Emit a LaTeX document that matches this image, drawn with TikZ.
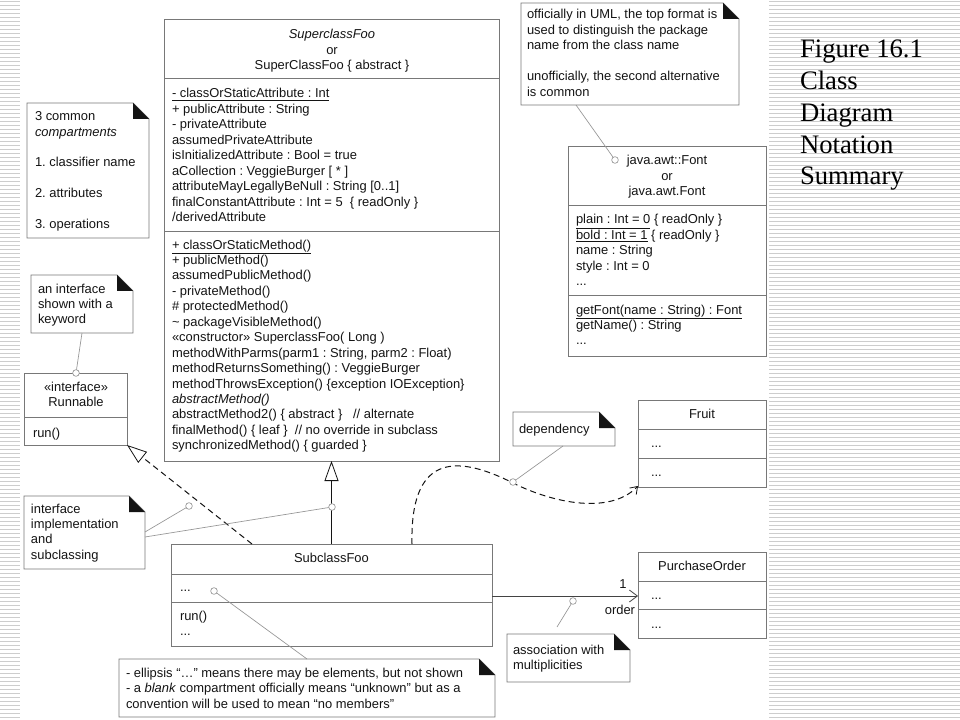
\documentclass[tikz,border=0pt]{standalone}
\usepackage{fontspec}
\setmainfont{Liberation Sans}
\newfontfamily\titlefont{Liberation Serif}
\usetikzlibrary{arrows.meta,fit}
\definecolor{boxc}{RGB}{120,120,120}
\definecolor{linkc}{RGB}{150,150,150}
\definecolor{stripec}{RGB}{205,205,205}
\definecolor{inkc}{RGB}{20,20,20}
\frenchspacing
\newcommand\fl{\rule{0pt}{7.5pt}}
\newcommand\umlnote[5]{%
  \node[fit={(#2,#3)(#4,#5)}] (#1) {};
  \draw[notec] (#1.north west) -- ([xshift=-12pt]#1.north east) -- ([yshift=-12pt]#1.north east) -- (#1.south east) -- (#1.south west) -- cycle;
  \fill[inkc] ([xshift=-12pt]#1.north east) -- ([xshift=-12pt,yshift=-12pt]#1.north east) -- ([yshift=-12pt]#1.north east) -- cycle;
}
\begin{document}
\begin{tikzpicture}[x=0.75pt,y=-0.75pt,
  every node/.style={inner sep=0pt, outer sep=0pt},
  txt/.style={font=\fontsize{9.7pt}{11.59pt}\selectfont\frenchspacing, text=inkc, align=left},
  frame/.style={draw=boxc, line width=0.75pt},
  notec/.style={draw=boxc, line width=0.65pt, fill=white},
  notelink/.style={draw=linkc, line width=0.5pt},
  pincirc/.style={circle, draw=linkc, fill=white, line width=0.5pt, minimum size=5pt},
  stripe/.style={draw=stripec, line width=0.6pt},
  titletxt/.style={font=\titlefont\fontsize{20pt}{24pt}\selectfont, text=black, anchor=base west},
  genarrow/.style={draw=inkc, line width=0.6pt, -{Triangle[fill=white, length=15pt, width=10.5pt, line width=0.6pt]}},
  realarrow/.style={draw=inkc, line width=0.75pt, dash pattern=on 4.5pt off 3pt, -{Triangle[fill=white, length=15pt, width=10.5pt, line width=0.6pt]}},
  deparrow/.style={draw=inkc, line width=0.75pt, dash pattern=on 4.5pt off 3pt, -{Straight Barb[length=5pt, width=7pt, line width=0.6pt]}},
  assocarrow/.style={draw=inkc!80, line width=0.6pt, -{Straight Barb[length=6pt, width=9pt, line width=0.6pt]}}
]
\useasboundingbox (0,0) rectangle (960,720);
\fill[white] (0,0) rectangle (960,720);
% striped slide background
\foreach \y in {1,5,...,717} {\draw[stripe] (0,\y) -- (20,\y); \draw[stripe] (769,\y) -- (960,\y);}

% title
\node[titletxt] (t1) at (800,58) {Figure 16.1};
\node[titletxt] (t2) at (800,90) {Class};
\node[titletxt] (t3) at (800,122) {Diagram};
\node[titletxt] (t4) at (800,153.5) {Notation};
\node[titletxt] (t5) at (800,185) {Summary};

% SuperclassFoo
\node[frame, fit={(164,20)(499,461)}] (super) {};
\draw[frame] (super.west |- 0,79) -- (super.east |- 0,79);
\draw[frame] (super.west |- 0,232) -- (super.east |- 0,232);
\node[txt, align=center, anchor=north] (superName) at (332,29) {\fl\textit{SuperclassFoo}\\or\\SuperClassFoo \{ abstract \}};
\node[txt, anchor=north west] (superAttr) at (172,88) {\fl\underline{- classOrStaticAttribute : Int}\\
+ publicAttribute : String\\
- privateAttribute\\
assumedPrivateAttribute\\
isInitializedAttribute : Bool = true\\
aCollection : VeggieBurger [ * ]\\
attributeMayLegallyBeNull : String [0..1]\\
finalConstantAttribute : Int = 5 \ \{ readOnly \}\\
/derivedAttribute};
\node[txt, anchor=north west] (superOps) at (172,239) {\fl\underline{+ classOrStaticMethod()}\\
+ publicMethod()\\
assumedPublicMethod()\\
- privateMethod()\\
\# protectedMethod()\\
\textasciitilde{} packageVisibleMethod()\\
«constructor» SuperclassFoo( Long )\\
methodWithParms(parm1 : String, parm2 : Float)\\
methodReturnsSomething() : VeggieBurger\\
methodThrowsException() \{exception IOException\}\\
\textit{abstractMethod()}\\
abstractMethod2() \{ abstract \} \ \ // alternate\\
finalMethod() \{ leaf \} \ // no override in subclass\\
synchronizedMethod() \{ guarded \}};

% java.awt.Font
\node[frame, fit={(568,147)(766,356)}] (font) {};
\draw[frame] (font.west |- 0,206) -- (font.east |- 0,206);
\draw[frame] (font.west |- 0,296) -- (font.east |- 0,296);
\node[txt, align=center, anchor=north] (fontName) at (667,155) {\fl java.awt::Font\\or\\java.awt.Font};
\node[txt, anchor=north west] (fontAttr) at (576,214) {\fl\underline{plain : Int = 0} \{ readOnly \}\\
\underline{bold : Int = 1} \{ readOnly \}\\
name : String\\
style : Int = 0\\
...};
\node[txt, anchor=north west] (fontOps) at (576,304) {\fl\underline{getFont(name : String) : Font}\\
getName() : String\\
...};

% Runnable
\node[frame, fit={(24,373)(127,445)}] (run) {};
\draw[frame] (run.west |- 0,417) -- (run.east |- 0,417);
\node[txt, align=center, anchor=north] (runName) at (76,381) {\fl«interface»\\Runnable};
\node[txt, anchor=base west] (runOps) at (33,437) {run()};

% SubclassFoo
\node[frame, fit={(171,544)(492,646)}] (sub) {};
\draw[frame] (sub.west |- 0,574) -- (sub.east |- 0,574);
\draw[frame] (sub.west |- 0,602) -- (sub.east |- 0,602);
\node[txt, anchor=base] (subName) at (331.5,562) {SubclassFoo};
\node[txt, anchor=base west] (subAttr) at (180,591) {...};
\node[txt, anchor=north west] (subOps) at (180,610) {\fl run()\\...};

% Fruit
\node[frame, fit={(638,400)(766,487)}] (fruit) {};
\draw[frame] (fruit.west |- 0,429) -- (fruit.east |- 0,429);
\draw[frame] (fruit.west |- 0,458) -- (fruit.east |- 0,458);
\node[txt, anchor=base] (fruitName) at (702,418) {Fruit};
\node[txt, anchor=base west] (fruitAttr) at (651,447) {...};
\node[txt, anchor=base west] (fruitOps) at (651,476) {...};

% PurchaseOrder
\node[frame, fit={(638,552)(766,638)}] (po) {};
\draw[frame] (po.west |- 0,581) -- (po.east |- 0,581);
\draw[frame] (po.west |- 0,609) -- (po.east |- 0,609);
\node[txt, anchor=base] (poName) at (702,570) {PurchaseOrder};
\node[txt, anchor=base west] (poAttr) at (651,599) {...};
\node[txt, anchor=base west] (poOps) at (651,628) {...};

% relationships
\draw[genarrow] (sub.north) -- (super.south);
\draw[realarrow] (sub.north -| 252,0) -- (run.south east);
\draw[deparrow] (sub.north -| 412,0) .. controls (410,458) and (452,452) .. (513,483) .. controls (553,503) and (610,515) .. (fruit.west |- 0,486);
\draw[assocarrow] (sub.east |- 0,596) -- (po.west |- 0,596);
\node[txt, anchor=base] (mult) at (623,588) {1};
\node[txt, anchor=base east] (role) at (635,614) {order};

% notes
\umlnote{nComp}{27}{103}{149}{238}
\node[txt, anchor=north west] (nCompT) at (35,111) {\fl 3 common\\\textit{compartments}};
\node[txt, anchor=base west] (nCompA) at (35,167) {1. classifier name};
\node[txt, anchor=base west] (nCompB) at (35,198) {2. attributes};
\node[txt, anchor=base west] (nCompC) at (35,229) {3. operations};

\umlnote{nUML}{521}{3}{739}{105}
\node[txt, anchor=north west] (nUMLT) at (527,9) {\fl officially in UML, the top format is\\
used to distinguish the package\\
name from the class name\\
\mbox{}\\
unofficially, the second alternative\\
is common};

\umlnote{nIface}{31}{275}{133}{333}
\node[txt, anchor=north west] (nIfaceT) at (38,283) {\fl an interface\\shown with a\\keyword};

\umlnote{nImpl}{24}{496}{145}{569}
\node[txt, anchor=north west] (nImplT) at (31,503) {\fl interface\\implementation\\and\\subclassing};

\umlnote{nDep}{513}{412}{615}{446}
\node[txt, anchor=base west] (nDepT) at (519,433) {dependency};

\umlnote{nAssoc}{507}{634}{630}{682}
\node[txt, anchor=north west] (nAssocT) at (513,644) {\fl association with\\multiplicities};

\umlnote{nEll}{119}{659}{495}{717}
\node[txt, anchor=north west] (nEllT) at (126,667.5) {\fl - ellipsis “…” means there may be elements, but not shown\\
- a \textit{blank} compartment officially means “unknown” but as a\\
convention will be used to mean “no members”};

% note anchors (small circles) and links
\node[pincirc] (cUML) at (615,160) {};
\node[pincirc] (cIface) at (76,373) {};
\node[pincirc] (cImplA) at (189,506) {};
\node[pincirc] (cImplB) at (332,507) {};
\node[pincirc] (cDep) at (513,482) {};
\node[pincirc] (cAssoc) at (573,601) {};
\node[pincirc] (cEll) at (214,591) {};
\coordinate (assocEnd) at (557,627);

\draw[notelink] (nUML.south -| 576,0) -- (cUML);
\draw[notelink] (nIface.south -| 82,0) -- (cIface);
\draw[notelink] (nImpl.east |- 0,532) -- (cImplA);
\draw[notelink] (nImpl.east |- 0,537) -- (cImplB);
\draw[notelink] (nDep.south -| 563,0) -- (cDep);
\draw[notelink] (assocEnd) -- (cAssoc);
\draw[notelink] (nEll.north -| 307,0) -- (cEll);
\end{tikzpicture}
\end{document}
